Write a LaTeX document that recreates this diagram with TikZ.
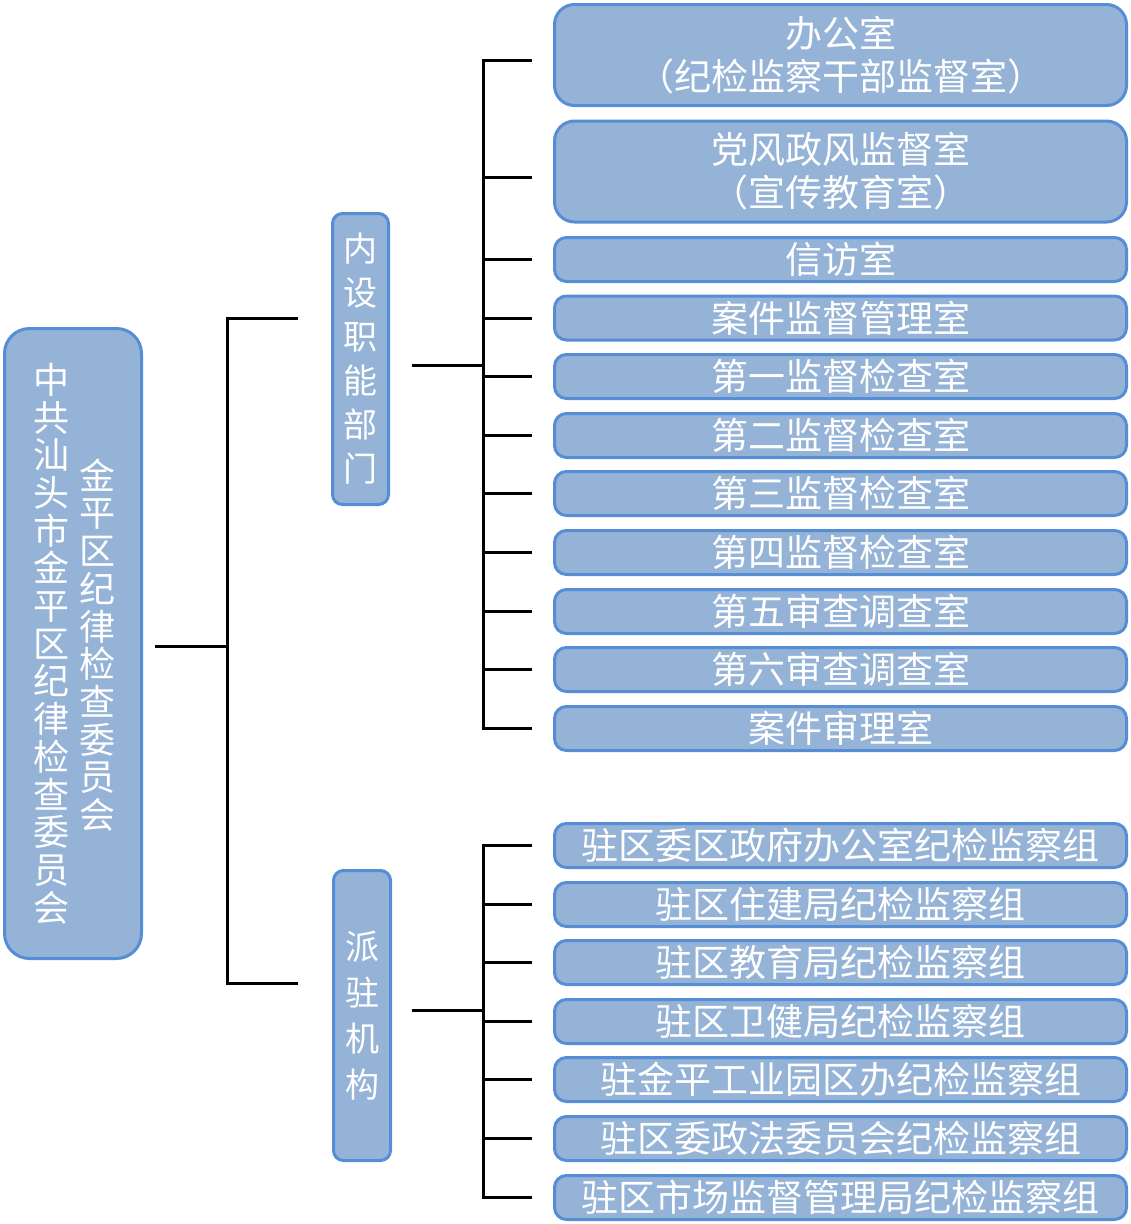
\documentclass[tikz,border=0pt]{standalone}
\usepackage{fontspec}
\newfontfamily\cjk{Noto Sans CJK SC}
\definecolor{boxfill}{HTML}{95B3D7}
\definecolor{boxline}{HTML}{558ED5}
\tikzset{
	unit/.style={rectangle, rounded corners=12pt, draw=boxline, fill=boxfill, line width=3pt, text=white, inner sep=0pt, align=center, font=\cjk\fontsize{37}{43}\selectfont},
	office/.style={unit, minimum width=572pt, minimum height=44pt},
	bigoffice/.style={office, minimum height=101pt, rounded corners=20pt},
	column/.style={text=white, inner sep=0pt, align=center, font=\cjk\fontsize{36}{37.7}\selectfont},
	branch/.style={line width=3pt, line cap=rect},
}
\begin{document}
\begin{tikzpicture}[x=1pt, y=-1pt]
	\useasboundingbox (0,0) rectangle (1131,1224);
	% committee
	\node[unit, rounded corners=25pt, minimum width=137pt, minimum height=630pt] (root) at (73,643.5) {};
	\node[column] (rootL) at (52,643.5) {中\\共\\汕\\头\\市\\金\\平\\区\\纪\\律\\检\\查\\委\\员\\会};
	\node[column] (rootR) at (97,645) {金\\平\\区\\纪\\律\\检\\查\\委\\员\\会};
	% two groups
	\node[unit, rounded corners=10pt, minimum width=56pt, minimum height=291pt, font=\cjk\fontsize{34}{44}\selectfont] (inner) at (360.5,359) {内\\设\\职\\能\\部\\门};
	\node[unit, rounded corners=10pt, minimum width=57pt, minimum height=290pt, font=\cjk\fontsize{34}{46}\selectfont] (sent) at (362,1015.5) {派\\驻\\机\\构};
	% offices
	\node[bigoffice] (o1) at (840.5,55) {办公室\\（纪检监察干部监督室）};
	\node[bigoffice] (o2) at (840.5,171.5) {党风政风监督室\\（宣传教育室）};
	\node[office] (o3) at (840.5,259.5) {信访室};
	\node[office] (o4) at (840.5,318) {案件监督管理室};
	\node[office] (o5) at (840.5,376.5) {第一监督检查室};
	\node[office] (o6) at (840.5,435.5) {第二监督检查室};
	\node[office] (o7) at (840.5,493.5) {第三监督检查室};
	\node[office] (o8) at (840.5,552.5) {第四监督检查室};
	\node[office] (o9) at (840.5,611.5) {第五审查调查室};
	\node[office] (o10) at (840.5,669.5) {第六审查调查室};
	\node[office] (o11) at (840.5,728.5) {案件审理室};
	% stationed groups
	\node[office] (s1) at (840.5,845.5) {驻区委区政府办公室纪检监察组};
	\node[office] (s2) at (840.5,904.5) {驻区住建局纪检监察组};
	\node[office] (s3) at (840.5,962.5) {驻区教育局纪检监察组};
	\node[office] (s4) at (840.5,1021.5) {驻区卫健局纪检监察组};
	\node[office] (s5) at (840.5,1079.5) {驻金平工业园区办纪检监察组};
	\node[office] (s6) at (840.5,1138.5) {驻区委政法委员会纪检监察组};
	\node[office] (s7) at (840.5,1197.5) {驻区市场监督管理局纪检监察组};
	% connectors
	\coordinate (rootbus) at (227,646);
	\coordinate (toinner) at (296,318);
	\coordinate (tosent) at (296,983);
	\coordinate (innerbus) at (483,365);
	\coordinate (sentbus) at (483,1010);
	\draw[branch] ([xshift=13pt]root.east |- rootbus) -- (rootbus);
	\draw[branch] (toinner) -| (rootbus) |- (tosent);
	\draw[branch] ([xshift=23pt]inner.east |- innerbus) -- (innerbus);
	\draw[branch] ([xshift=21pt]sent.east |- sentbus) -- (sentbus);
	\draw[branch] (innerbus |- 0,60) -- (innerbus |- o11);
	\draw[branch] (sentbus |- s1) -- (sentbus |- s7);
	\draw[branch] (innerbus |- 0,60) -- ([xshift=-23pt]o1.west |- 0,60);
	\draw[branch] (innerbus |- 0,177) -- ([xshift=-23pt]o2.west |- 0,177);
	\foreach \i in {3,...,11}
		\draw[branch] (innerbus |- o\i) -- ([xshift=-23pt]o\i.west);
	\foreach \i in {1,...,7}
		\draw[branch] (sentbus |- s\i) -- ([xshift=-23pt]s\i.west);
\end{tikzpicture}
\end{document}
